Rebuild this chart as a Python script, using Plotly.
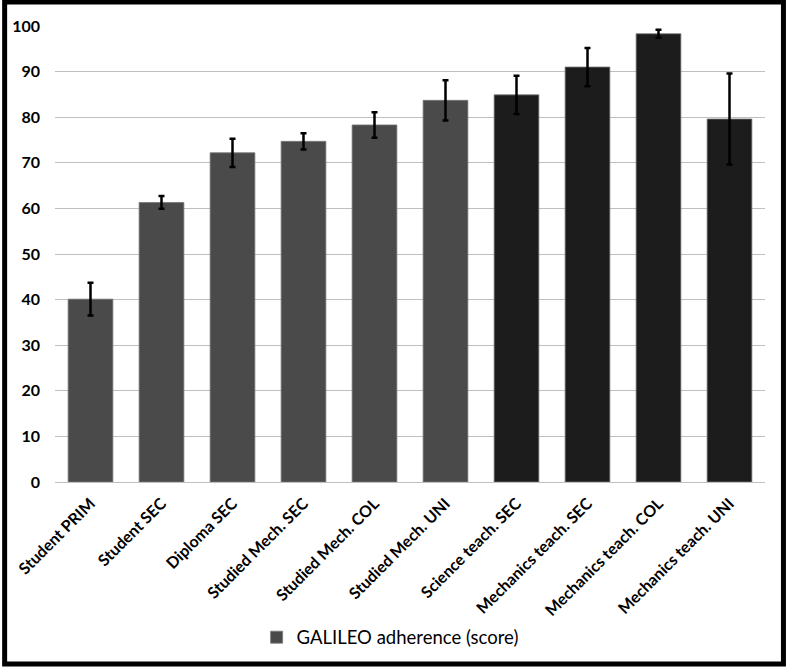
import plotly.graph_objects as go

categories = ["Student PRIM", "Student SEC", "Diploma SEC", "Studied Mech. SEC",
              "Studied Mech. COL", "Studied Mech. UNI", "Science teach. SEC",
              "Mechanics teach. SEC", "Mechanics teach. COL", "Mechanics teach. UNI"]
scores = [40.1, 61.3, 72.2, 74.7, 78.3, 83.7, 84.9, 91.0, 98.3, 79.6]
errors = [3.6, 1.4, 3.1, 1.8, 2.8, 4.4, 4.2, 4.2, 0.9, 10.0]
bar_colors = ["#4a4a4a"] * 6 + ["#1c1c1c"] * 4
series_name = "GALILEO adherence (score)"
y_ticks = [0, 10, 20, 30, 40, 50, 60, 70, 80, 90, 100]

W, H = 786, 668
ml, mr, mt, mb = 53, 21, 26, 185
pw, ph = W - ml - mr, H - mt - mb

fig = go.Figure()
fig.add_trace(go.Bar(
    x=categories, y=scores, name=series_name,
    marker=dict(color=bar_colors, line=dict(color="#777777", width=0.8)),
    error_y=dict(type="data", array=errors, visible=True, color="#000000",
                 thickness=2.5, width=3),
    showlegend=True,
))

def px_x(x):
    return (x - ml) / pw

def px_y(y):
    return (H - mb - y) / ph

fig.add_shape(type="rect", xref="paper", yref="paper",
              x0=px_x(2.5), x1=px_x(783.5), y0=px_y(665.5), y1=px_y(2),
              line=dict(color="#000000", width=5), fillcolor="rgba(0,0,0,0)",
              layer="above")

fig.update_layout(
    width=W, height=H,
    margin=dict(l=ml, r=mr, t=mt, b=mb),
    paper_bgcolor="white", plot_bgcolor="white",
    bargap=0.37,
    font=dict(family="Lato, Carlito, Calibri, sans-serif", color="#000000"),
    showlegend=True,
    legend=dict(orientation="h", x=0.472, xanchor="center", y=px_y(639), yanchor="middle",
                font=dict(size=18.5, family="Lato, sans-serif", color="#000000"),
                itemwidth=30),
    xaxis=dict(tickangle=-45, tickfont=dict(size=16, family="Lato, sans-serif", weight="bold"),
               showgrid=False, showline=True, linecolor="#bfbfbf", linewidth=1,
               ticks="", ticklabelstandoff=5),
    yaxis=dict(range=[0, 100], tickvals=y_ticks,
               tickfont=dict(size=16, family="Lato, sans-serif", weight="bold"),
               showgrid=True, gridcolor="#bfbfbf", gridwidth=1,
               zeroline=True, zerolinecolor="#bfbfbf", zerolinewidth=1,
               showline=False, ticks="", ticklabelstandoff=14),
)

fig.write_html("out.html", config={"displayModeBar": False},
               post_script="document.body.style.margin='0';document.body.style.overflow='hidden';")
